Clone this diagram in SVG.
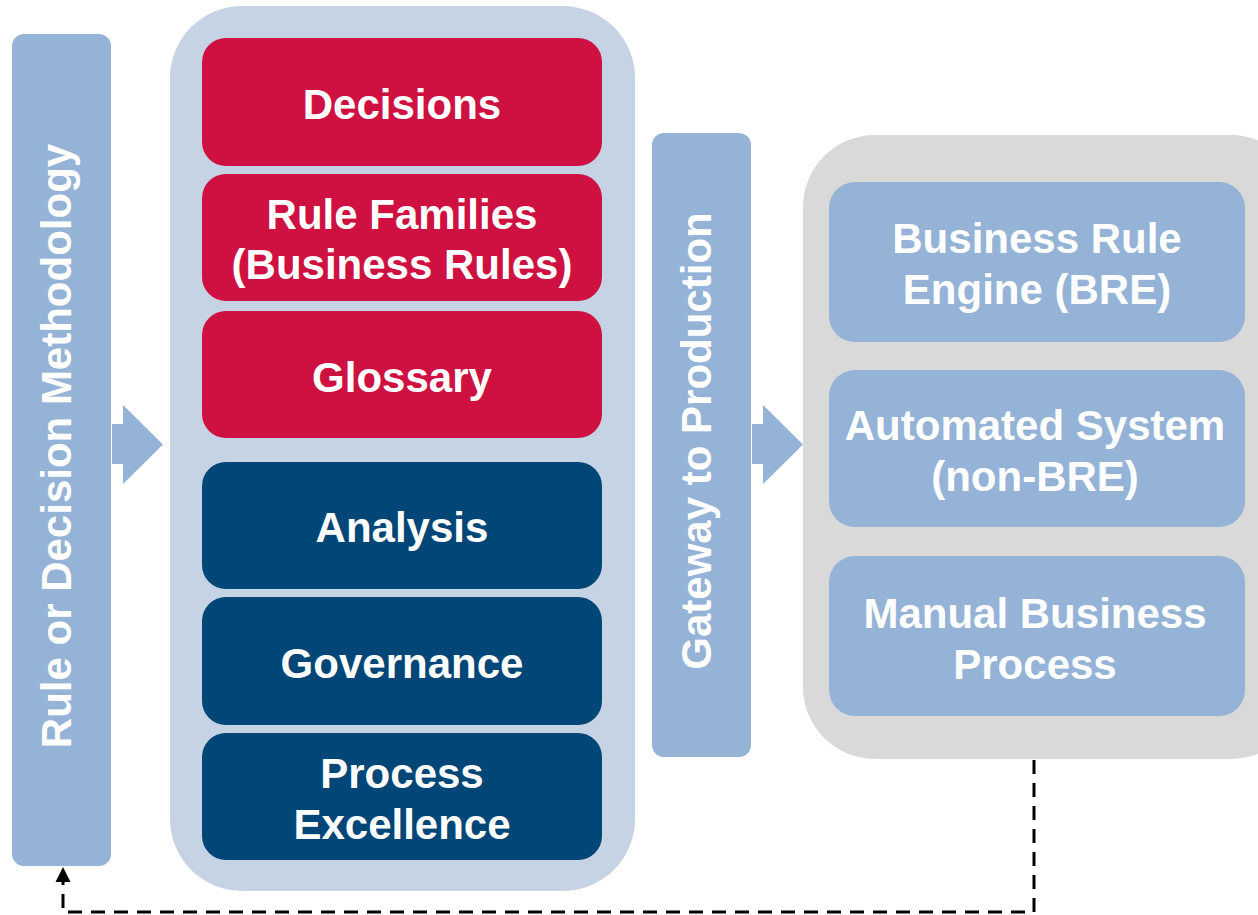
<svg xmlns="http://www.w3.org/2000/svg" width="1258" height="915" viewBox="0 0 1258 915">
<defs>
<style>
.t{font-family:"Liberation Sans",Arial,sans-serif;font-weight:bold;font-size:42px;fill:#fff;text-anchor:middle}
.bar{fill:#95B3D7}
.red{fill:#CE1141}
.navy{fill:#004677}
.lb{fill:#95B3D7}
.dash{fill:none;stroke:#000;stroke-width:3;stroke-dasharray:14 9}
</style>
<marker id="ah" viewBox="0 0 10 10" refX="10" refY="5" markerWidth="5" markerHeight="5.4" markerUnits="strokeWidth" orient="auto">
<path d="M0,0 L10,5 L0,10 z" fill="#000"/>
</marker>
</defs>
<rect width="1258" height="915" fill="#fff"/>
<g id="methodology">
<rect class="bar" x="12" y="34" width="99" height="832" rx="12"/>
<text class="t" transform="translate(71,446) rotate(-90)">Rule or Decision Methodology</text>
</g>
<g id="arrow1">
<path class="bar" d="M112,424 H123 V405 L163,444.5 L123,484 V464 H112 Z"/>
</g>
<g id="middle">
<rect x="170" y="6" width="465" height="885" rx="72" fill="#C6D3E5"/>
<g id="decisions"><rect class="red" x="202" y="38" width="400" height="128" rx="24"/><text class="t" x="402" y="119">Decisions</text></g>
<g id="rulefamilies"><rect class="red" x="202" y="174" width="400" height="127" rx="24"/><text class="t" x="402" y="229">Rule Families</text><text class="t" x="402" y="279">(Business Rules)</text></g>
<g id="glossary"><rect class="red" x="202" y="311" width="400" height="127" rx="24"/><text class="t" x="402" y="392">Glossary</text></g>
<g id="analysis"><rect class="navy" x="202" y="462" width="400" height="127" rx="24"/><text class="t" x="402" y="542">Analysis</text></g>
<g id="governance"><rect class="navy" x="202" y="597" width="400" height="128" rx="24"/><text class="t" x="402" y="678">Governance</text></g>
<g id="process"><rect class="navy" x="202" y="733" width="400" height="127" rx="24"/><text class="t" x="402" y="788">Process</text><text class="t" x="402" y="839">Excellence</text></g>
</g>
<g id="gateway">
<rect class="bar" x="652" y="133" width="99" height="624" rx="12"/>
<text class="t" transform="translate(711,441) rotate(-90)">Gateway to Production</text>
</g>
<g id="arrow2">
<path class="bar" d="M752,424 H763 V405 L803,444.5 L763,484 V464 H752 Z"/>
</g>
<g id="targets">
<rect x="803" y="135" width="500" height="624" rx="72" fill="#D9D9D9"/>
<g id="bre"><rect class="lb" x="829" y="182" width="416" height="160" rx="26"/><text class="t" x="1037" y="253">Business Rule</text><text class="t" x="1037" y="304">Engine (BRE)</text></g>
<g id="automated"><rect class="lb" x="829" y="370" width="416" height="157" rx="26"/><text class="t" x="1035" y="440">Automated System</text><text class="t" x="1035" y="491">(non-BRE)</text></g>
<g id="manual"><rect class="lb" x="829" y="556" width="416" height="160" rx="26"/><text class="t" x="1035" y="628">Manual Business</text><text class="t" x="1035" y="679">Process</text></g>
</g>
<g id="connectors">
<path class="dash" d="M1034,760 V912 H63 V867" marker-end="url(#ah)"/>
</g>
</svg>
